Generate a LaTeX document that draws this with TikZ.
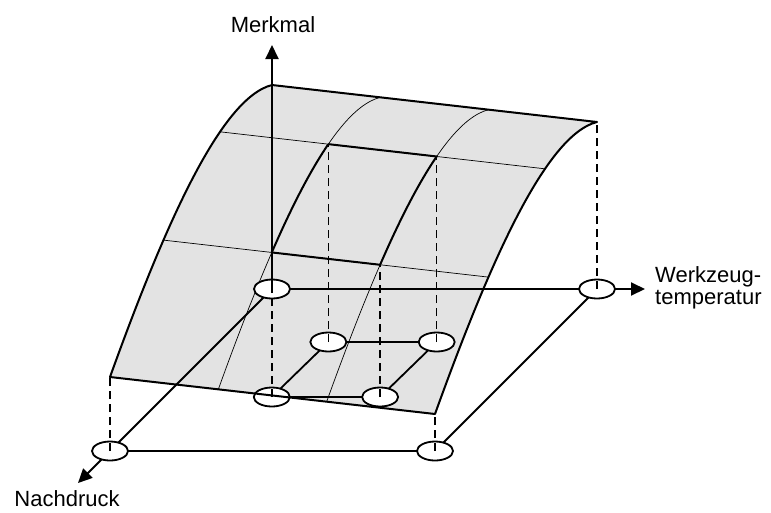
\documentclass[tikz,border=0pt]{standalone}
\usepackage{fontspec}
\setmainfont{Liberation Sans}
\usetikzlibrary{arrows.meta,shapes.geometric,calc}
\definecolor{surfgray}{RGB}{227,227,227}

\begin{document}
\begin{tikzpicture}[x=1pt, y=-1pt,
  knot/.style={draw, ellipse, fill=white, line width=1.8pt,
    minimum width=36pt, minimum height=19pt, inner sep=0pt},
  axis/.style={line width=2pt, -{Triangle[length=14pt,width=13pt]}},
  link/.style={line width=1.8pt},
  edge/.style={line width=2pt},
  grid/.style={line width=0.7pt},
  proj/.style={line width=1.5pt, dash pattern=on 8pt off 5pt},
  lab/.style={font=\fontsize{22}{21.6}\selectfont, inner sep=0pt}]

\useasboundingbox (0,0) rectangle (771,512);

% response surface
\fill[surfgray] (110,377) .. controls (163,230) and (220,98) .. (272,85)
  -- (597,122) .. controls (545,135) and (488,267) .. (435,414) -- cycle;
\path (110,377) .. controls (163,230) and (220,98) .. (272,85)
  coordinate[pos=0.33] (h2) coordinate[pos=0.675] (h1);

% grid on the surface
\draw[grid] (h1) -- ++(325,37);
\draw[grid] (h2) -- ++(325,37);
\foreach \s in {1,2}
  \draw[grid, shift={(108.33*\s,12.33*\s)}]
    (110,377) .. controls (163,230) and (220,98) .. (272,85);

% examined field
\coordinate (c1) at ($(h1)+(108.33,12.33)$);
\coordinate (c2) at ($(h1)+(216.67,24.67)$);
\coordinate (c3) at ($(h2)+(108.33,12.33)$);
\coordinate (c4) at ($(h2)+(216.67,24.67)$);
\begin{scope}
  \clip ($(h2)-(325,37)$) -- ($(h2)+(650,74)$) -- ($(h1)+(650,74)$)
    -- ($(h1)-(325,37)$) -- cycle;
  \foreach \s in {1,2}
    \draw[edge, shift={(108.33*\s,12.33*\s)}]
      (110,377) .. controls (163,230) and (220,98) .. (272,85);
\end{scope}
\draw[edge] (c1) -- (c2);
\draw[edge] (c3) -- (c4);

% base plane
\coordinate (wtip) at (645,289);
\coordinate (ntip) at (78,483);
\coordinate (mtip) at (272,45);
\coordinate (o) at (272,289);
\coordinate (w) at (597,289);
\coordinate (n) at (110,451);
\coordinate (e) at (435,451);
\coordinate (p1) at (c1 |- 0,342);
\coordinate (p2) at (c2 |- 0,342);
\coordinate (p3) at (c3 |- 0,397);
\coordinate (p4) at (c4 |- 0,397);

\draw[axis] (o) -- (wtip);
\draw[axis] (o) -- (ntip);
\draw[link] (n) -- (e) -- (w);
\draw[link] (p1) -- (p2) -- (p4) -- (p3) -- cycle;

\foreach \k in {o,w,n,e,p1,p2,p3,p4}
  \node[knot] (k\k) at (\k) {};

% projections
\draw[proj] (kn.center) -- (110,377);
\draw[proj] (ke.center) -- (435,414);
\draw[proj] (kw.center) -- (597,122);
\draw[proj] (kp1.center) -- (c1);
\draw[proj] (kp2.center) -- (c2);
\draw[proj] (kp3.center) -- (c3);
\draw[proj] (kp4.center) -- (c4);

\draw[axis] (ko.center) -- (mtip);

% outline
\draw[edge, line join=round] (110,377) .. controls (163,230) and (220,98) .. (272,85)
  -- (597,122) .. controls (545,135) and (488,267) .. (435,414) -- cycle;

% labels
\node[lab, anchor=base] (merkmal) at (273,32) {Merkmal};
\node[lab, anchor=west, align=left] (temp) at (655,288) {Werkzeug-\\temperatur};
\node[lab, anchor=base] (nach) at (67,506) {Nachdruck};
\end{tikzpicture}
\end{document}
